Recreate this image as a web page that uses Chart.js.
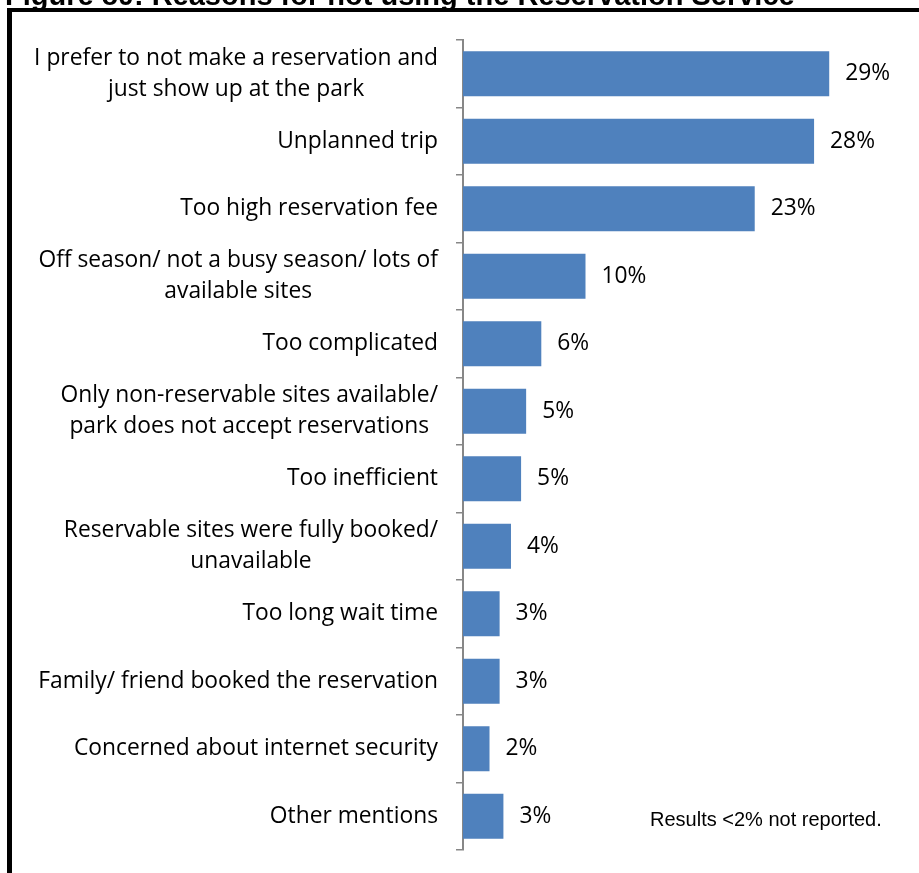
<!DOCTYPE html>
<html>
<head>
<meta charset="utf-8">
<script src="https://cdn.jsdelivr.net/npm/chart.js@4.4.1/dist/chart.umd.min.js"></script>
<style>
  html, body { margin: 0; padding: 0; background: #fff; overflow: hidden; }
  #chart { display: block; }
</style>
</head>
<body>
<canvas id="chart" width="919" height="873"></canvas>
<script>
// reasons, one array of lines per category
const reasons = [
  ['I prefer to not make a reservation and', 'just show up at the park'],
  ['Unplanned trip'],
  ['Too high reservation fee'],
  ['Off season/ not a busy season/ lots of', 'available sites'],
  ['Too complicated'],
  ['Only non-reservable sites available/', 'park does not accept reservations'],
  ['Too inefficient'],
  ['Reservable sites were fully booked/', 'unavailable'],
  ['Too long wait time'],
  ['Family/ friend booked the reservation'],
  ['Concerned about internet security'],
  ['Other mentions']
];
// share of respondents (%)
const shares = [29, 27.8, 23.1, 9.7, 6.2, 5.0, 4.6, 3.8, 2.9, 2.9, 2.1, 3.2];
// printed labels
const shareLabels = ['29%', '28%', '23%', '10%', '6%', '5%', '5%', '4%', '3%', '3%', '2%', '3%'];

const titleText = 'Figure 80: Reasons for not using the Reservation Service';
const noteText = 'Results <2% not reported.';

const labelFont = '22.8px "Open Sans"';

const decor = {
  id: 'decor',
  afterDraw(chart) {
    const ctx = chart.ctx;
    const ys = chart.scales.y;
    const area = chart.chartArea;
    ctx.save();
    // frame
    ctx.fillStyle = '#000';
    ctx.fillRect(7, 8, 912, 4);
    ctx.fillRect(7, 8, 5, 865);
    // title (cut at top)
    ctx.font = 'bold 29px "Liberation Sans", Arial, sans-serif';
    ctx.textAlign = 'left';
    ctx.textBaseline = 'alphabetic';
    ctx.fillText(titleText, 5, 5);

    // category labels, block right-aligned, lines centred
    ctx.font = labelFont;
    ctx.textBaseline = 'middle';
    ctx.textAlign = 'center';
    const rightEdge = area.left - 25;
    reasons.forEach((lines, i) => {
      const y = ys.getPixelForValue(i);
      const w = Math.max(...lines.map(l => ctx.measureText(l).width));
      const cx = rightEdge - w / 2;
      lines.forEach((l, k) => {
        ctx.fillText(l, cx, y + (k - (lines.length - 1) / 2) * 31);
      });
    });

    // value labels
    ctx.textAlign = 'left';
    const meta = chart.getDatasetMeta(0);
    meta.data.forEach((bar, i) => {
      ctx.fillText(shareLabels[i], bar.x + 16, bar.y);
    });

    // footnote
    ctx.font = '20px "Liberation Sans", Arial, sans-serif';
    ctx.textBaseline = 'alphabetic';
    ctx.fillText(noteText, 650, 826);
    ctx.restore();
  }
};

new Chart(document.getElementById('chart'), {
  type: 'bar',
  data: {
    labels: reasons,
    datasets: [{
      data: shares,
      backgroundColor: '#4F81BD',
      borderWidth: 0,
      categoryPercentage: 1,
      barPercentage: 0.667
    }]
  },
  options: {
    indexAxis: 'y',
    responsive: false,
    animation: false,
    layout: { padding: { top: 40, bottom: 23, right: 14, left: 0 } },
    plugins: {
      legend: { display: false },
      tooltip: { enabled: false },
      title: { display: false }
    },
    scales: {
      x: { display: false, min: 0, max: 35 },
      y: {
        ticks: { display: false },
        grid: {
          offset: true,
          drawOnChartArea: false,
          drawTicks: true,
          tickLength: 7,
          color: '#878787',
          lineWidth: 1.5
        },
        border: { display: true, color: '#878787', width: 2 },
        afterFit(scale) { scale.width = 463; }
      }
    }
  },
  plugins: [decor]
});
</script>
</body>
</html>
